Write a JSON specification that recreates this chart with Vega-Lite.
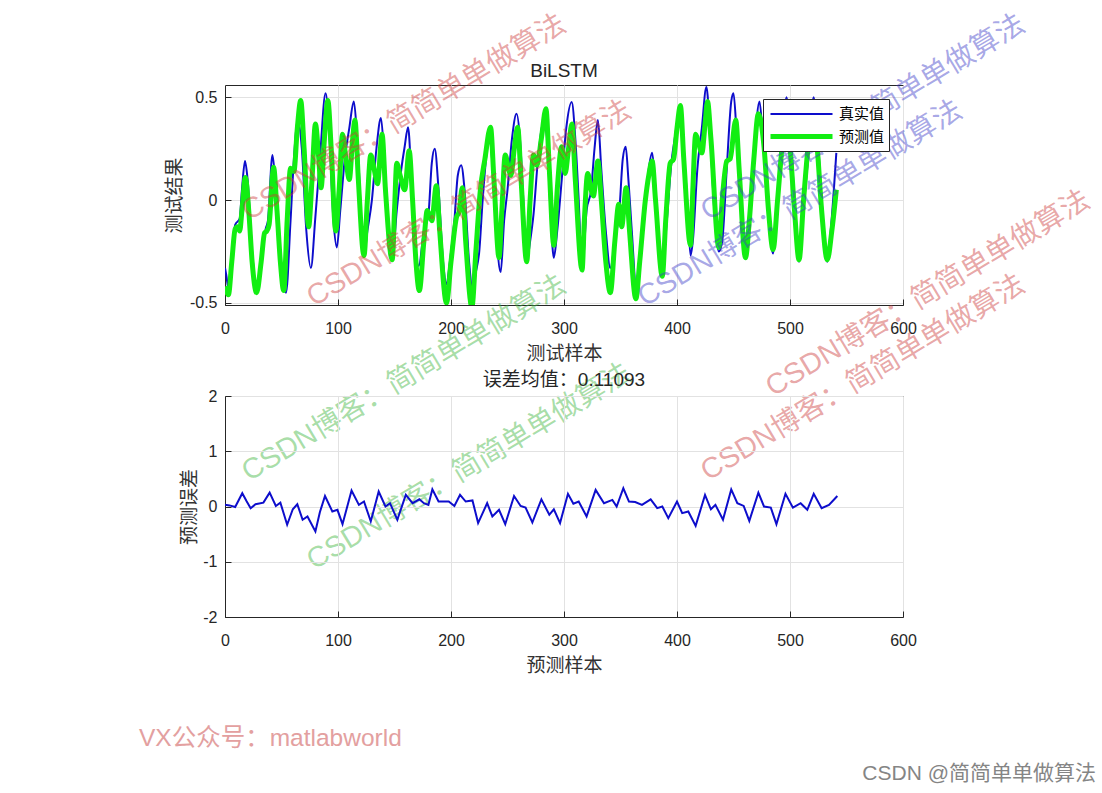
{
  "$schema": "https://vega.github.io/schema/vega-lite/v6.json",
  "background": "white",
  "padding": {"left": 138, "top": 9, "right": 0, "bottom": 0},
  "bounds": "flush",
  "spacing": 91,
  "config": {
    "view": {"stroke": "#262626", "strokeWidth": 1},
    "axis": {
      "domainColor": "#262626", "tickColor": "#262626", "labelColor": "#262626",
      "labelFont": "Liberation Sans", "labelFontSize": 16, "labelFlush": false,
      "titleFont": "Noto Sans CJK SC", "titleFontSize": 19, "titleFontWeight": "normal", "titleColor": "#333333",
      "grid": true, "gridColor": "#e2e2e2", "tickSize": -6
    },
    "axisX": {"labelPadding": 21, "titlePadding": 8},
    "axisY": {"labelPadding": 14, "titlePadding": 5},
    "title": {"font": "Liberation Sans, Noto Sans CJK SC", "fontSize": 19, "fontWeight": "normal", "color": "#262626", "frame": "group"},
    "legend": {
      "orient": "top-right", "offset": 14, "title": null,
      "strokeColor": "#262626", "fillColor": "white", "padding": 4, "cornerRadius": 0,
      "symbolType": "M-3.1,0H3.1", "symbolSize": 400, "symbolOffset": 22, "labelOffset": 25, "rowPadding": 2,
      "labelFont": "Noto Sans CJK SC", "labelFontSize": 15, "labelColor": "#000000"
    }
  },
  "datasets": {
    "top": [
      {"s":0,"v":-0.33,"k":"真实值"},{"s":1,"v":-0.36,"k":"真实值"},{"s":3.5,"v":-0.44,"k":"真实值"},{"s":6,"v":-0.3,"k":"真实值"},{"s":9,"v":-0.12,"k":"真实值"},{"s":13,"v":-0.09,"k":"真实值"},{"s":15,"v":0.05,"k":"真实值"},{"s":17.7,"v":0.19,"k":"真实值"},{"s":20,"v":0.1,"k":"真实值"},{"s":24,"v":-0.25,"k":"真实值"},{"s":28,"v":-0.44,"k":"真实值"},{"s":32,"v":-0.3,"k":"真实值"},{"s":36,"v":-0.14,"k":"真实值"},{"s":38,"v":-0.1,"k":"真实值"},{"s":42,"v":0.22,"k":"真实值"},{"s":45,"v":0.05,"k":"真实值"},{"s":50,"v":-0.35,"k":"真实值"},{"s":54,"v":-0.45,"k":"真实值"},{"s":58,"v":-0.1,"k":"真实值"},{"s":61,"v":0.2,"k":"真实值"},{"s":64.5,"v":0.39,"k":"真实值"},{"s":68,"v":0.25,"k":"真实值"},{"s":72,"v":-0.15,"k":"真实值"},{"s":76,"v":-0.33,"k":"真实值"},{"s":80,"v":-0.08,"k":"真实值"},{"s":84,"v":0.2,"k":"真实值"},{"s":89,"v":0.52,"k":"真实值"},{"s":92,"v":0.35,"k":"真实值"},{"s":96,"v":-0.1,"k":"真实值"},{"s":99,"v":-0.23,"k":"真实值"},{"s":102,"v":-0.05,"k":"真实值"},{"s":106,"v":0.2,"k":"真实值"},{"s":110,"v":0.35,"k":"真实值"},{"s":114,"v":0.48,"k":"真实值"},{"s":117,"v":0.3,"k":"真实值"},{"s":123,"v":-0.27,"k":"真实值"},{"s":126,"v":-0.15,"k":"真实值"},{"s":130,"v":0.0,"k":"真实值"},{"s":134,"v":0.25,"k":"真实值"},{"s":138,"v":0.4,"k":"真实值"},{"s":141,"v":0.2,"k":"真实值"},{"s":145,"v":-0.15,"k":"真实值"},{"s":148,"v":-0.29,"k":"真实值"},{"s":152,"v":-0.05,"k":"真实值"},{"s":156,"v":0.15,"k":"真实值"},{"s":159,"v":0.26,"k":"真实值"},{"s":162,"v":0.355,"k":"真实值"},{"s":165,"v":0.1,"k":"真实值"},{"s":168,"v":-0.2,"k":"真实值"},{"s":171.5,"v":-0.32,"k":"真实值"},{"s":176,"v":-0.15,"k":"真实值"},{"s":180,"v":-0.07,"k":"真实值"},{"s":183,"v":0.18,"k":"真实值"},{"s":185.6,"v":0.25,"k":"真实值"},{"s":189,"v":0.05,"k":"真实值"},{"s":193,"v":-0.3,"k":"真实值"},{"s":196,"v":-0.41,"k":"真实值"},{"s":199,"v":-0.3,"k":"真实值"},{"s":203,"v":-0.1,"k":"真实值"},{"s":206,"v":0.12,"k":"真实值"},{"s":209,"v":0.17,"k":"真实值"},{"s":212,"v":0.05,"k":"真实值"},{"s":216,"v":-0.3,"k":"真实值"},{"s":219,"v":-0.43,"k":"真实值"},{"s":222,"v":-0.35,"k":"真实值"},{"s":225,"v":-0.25,"k":"真实值"},{"s":228,"v":0.0,"k":"真实值"},{"s":232,"v":0.25,"k":"真实值"},{"s":234,"v":0.3,"k":"真实值"},{"s":237,"v":0.15,"k":"真实值"},{"s":240,"v":-0.15,"k":"真实值"},{"s":244,"v":-0.35,"k":"真实值"},{"s":247,"v":-0.1,"k":"真实值"},{"s":250,"v":0.05,"k":"真实值"},{"s":254,"v":0.3,"k":"真实值"},{"s":258,"v":0.42,"k":"真实值"},{"s":261,"v":0.3,"k":"真实值"},{"s":264,"v":0.0,"k":"真实值"},{"s":267,"v":-0.3,"k":"真实值"},{"s":270,"v":-0.2,"k":"真实值"},{"s":273,"v":-0.07,"k":"真实值"},{"s":277,"v":0.2,"k":"真实值"},{"s":282,"v":0.38,"k":"真实值"},{"s":285,"v":0.3,"k":"真实值"},{"s":288,"v":-0.05,"k":"真实值"},{"s":291,"v":-0.28,"k":"真实值"},{"s":294,"v":-0.15,"k":"真实值"},{"s":298,"v":0.1,"k":"真实值"},{"s":302,"v":0.35,"k":"真实值"},{"s":306.8,"v":0.477,"k":"真实值"},{"s":310,"v":0.3,"k":"真实值"},{"s":313,"v":0.0,"k":"真实值"},{"s":316,"v":-0.34,"k":"真实值"},{"s":320,"v":-0.05,"k":"真实值"},{"s":324,"v":0.05,"k":"真实值"},{"s":327,"v":0.25,"k":"真实值"},{"s":330,"v":0.39,"k":"真实值"},{"s":333,"v":0.15,"k":"真实值"},{"s":337,"v":-0.15,"k":"真实值"},{"s":341,"v":-0.33,"k":"真实值"},{"s":345,"v":-0.2,"k":"真实值"},{"s":349,"v":-0.05,"k":"真实值"},{"s":352,"v":0.2,"k":"真实值"},{"s":354.6,"v":0.26,"k":"真实值"},{"s":357,"v":0.1,"k":"真实值"},{"s":360,"v":-0.15,"k":"真实值"},{"s":363.6,"v":-0.4,"k":"真实值"},{"s":367,"v":-0.3,"k":"真实值"},{"s":372,"v":-0.02,"k":"真实值"},{"s":375,"v":0.15,"k":"真实值"},{"s":378,"v":0.23,"k":"真实值"},{"s":381,"v":0.05,"k":"真实值"},{"s":384,"v":-0.2,"k":"真实值"},{"s":387,"v":-0.33,"k":"真实值"},{"s":391,"v":-0.1,"k":"真实值"},{"s":395,"v":0.18,"k":"真实值"},{"s":398,"v":0.3,"k":"真实值"},{"s":402,"v":0.42,"k":"真实值"},{"s":405,"v":0.3,"k":"真实值"},{"s":409,"v":0.0,"k":"真实值"},{"s":412,"v":-0.27,"k":"真实值"},{"s":414,"v":-0.2,"k":"真实值"},{"s":418,"v":0.15,"k":"真实值"},{"s":422,"v":0.35,"k":"真实值"},{"s":426,"v":0.55,"k":"真实值"},{"s":429,"v":0.35,"k":"真实值"},{"s":433,"v":-0.05,"k":"真实值"},{"s":437,"v":-0.25,"k":"真实值"},{"s":440,"v":-0.2,"k":"真实值"},{"s":444,"v":0.15,"k":"真实值"},{"s":448,"v":0.48,"k":"真实值"},{"s":450,"v":0.52,"k":"真实值"},{"s":453,"v":0.3,"k":"真实值"},{"s":457,"v":0.0,"k":"真实值"},{"s":461,"v":-0.28,"k":"真实值"},{"s":464,"v":-0.15,"k":"真实值"},{"s":468,"v":0.2,"k":"真实值"},{"s":473,"v":0.48,"k":"真实值"},{"s":476,"v":0.3,"k":"真实值"},{"s":480,"v":0.0,"k":"真实值"},{"s":485,"v":-0.26,"k":"真实值"},{"s":488,"v":-0.1,"k":"真实值"},{"s":492,"v":0.2,"k":"真实值"},{"s":497,"v":0.5,"k":"真实值"},{"s":500,"v":0.35,"k":"真实值"},{"s":504,"v":0.0,"k":"真实值"},{"s":508,"v":-0.3,"k":"真实值"},{"s":511,"v":-0.1,"k":"真实值"},{"s":516,"v":0.2,"k":"真实值"},{"s":521,"v":0.5,"k":"真实值"},{"s":524,"v":0.35,"k":"真实值"},{"s":528,"v":0.0,"k":"真实值"},{"s":533,"v":-0.3,"k":"真实值"},{"s":536,"v":-0.15,"k":"真实值"},{"s":541,"v":0.23,"k":"真实值"},
      {"s":0,"v":-0.42,"k":"预测值"},{"s":3,"v":-0.46,"k":"预测值"},{"s":6,"v":-0.3,"k":"预测值"},{"s":9,"v":-0.14,"k":"预测值"},{"s":11,"v":-0.13,"k":"预测值"},{"s":13,"v":-0.15,"k":"预测值"},{"s":15,"v":-0.05,"k":"预测值"},{"s":18,"v":0.11,"k":"预测值"},{"s":21,"v":-0.05,"k":"预测值"},{"s":24,"v":-0.3,"k":"预测值"},{"s":28,"v":-0.45,"k":"预测值"},{"s":32,"v":-0.3,"k":"预测值"},{"s":35,"v":-0.16,"k":"预测值"},{"s":37,"v":-0.15,"k":"预测值"},{"s":39,"v":-0.12,"k":"预测值"},{"s":43,"v":0.16,"k":"预测值"},{"s":46,"v":-0.05,"k":"预测值"},{"s":49,"v":-0.3,"k":"预测值"},{"s":52,"v":-0.44,"k":"预测值"},{"s":55,"v":-0.1,"k":"预测值"},{"s":58,"v":0.155,"k":"预测值"},{"s":61,"v":0.14,"k":"预测值"},{"s":64,"v":0.35,"k":"预测值"},{"s":67,"v":0.485,"k":"预测值"},{"s":70,"v":0.25,"k":"预测值"},{"s":74,"v":-0.13,"k":"预测值"},{"s":77,"v":0.1,"k":"预测值"},{"s":80,"v":0.37,"k":"预测值"},{"s":83,"v":0.2,"k":"预测值"},{"s":85,"v":0.06,"k":"预测值"},{"s":88,"v":0.3,"k":"预测值"},{"s":91,"v":0.485,"k":"预测值"},{"s":94,"v":0.25,"k":"预测值"},{"s":98,"v":-0.15,"k":"预测值"},{"s":101,"v":0.05,"k":"预测值"},{"s":104,"v":0.32,"k":"预测值"},{"s":107,"v":0.2,"k":"预测值"},{"s":110,"v":0.1,"k":"预测值"},{"s":113,"v":0.3,"k":"预测值"},{"s":115,"v":0.39,"k":"预测值"},{"s":118,"v":0.1,"k":"预测值"},{"s":123,"v":-0.27,"k":"预测值"},{"s":126,"v":0.0,"k":"预测值"},{"s":129,"v":0.22,"k":"预测值"},{"s":132,"v":0.15,"k":"预测值"},{"s":135,"v":0.08,"k":"预测值"},{"s":139,"v":0.32,"k":"预测值"},{"s":142,"v":0.05,"k":"预测值"},{"s":148,"v":-0.29,"k":"预测值"},{"s":150,"v":-0.05,"k":"预测值"},{"s":152,"v":0.18,"k":"预测值"},{"s":155,"v":0.12,"k":"预测值"},{"s":159,"v":0.05,"k":"预测值"},{"s":163,"v":0.24,"k":"预测值"},{"s":166,"v":0.0,"k":"预测值"},{"s":169,"v":-0.3,"k":"预测值"},{"s":172,"v":-0.44,"k":"预测值"},{"s":176,"v":-0.2,"k":"预测值"},{"s":179,"v":-0.05,"k":"预测值"},{"s":183,"v":-0.1,"k":"预测值"},{"s":187,"v":0.07,"k":"预测值"},{"s":190,"v":-0.15,"k":"预测值"},{"s":196,"v":-0.5,"k":"预测值"},{"s":200,"v":-0.3,"k":"预测值"},{"s":205,"v":-0.08,"k":"预测值"},{"s":207,"v":-0.06,"k":"预测值"},{"s":210,"v":0.06,"k":"预测值"},{"s":213,"v":-0.2,"k":"预测值"},{"s":218.5,"v":-0.52,"k":"预测值"},{"s":222,"v":-0.25,"k":"预测值"},{"s":226,"v":0.05,"k":"预测值"},{"s":230,"v":0.2,"k":"预测值"},{"s":235,"v":0.355,"k":"预测值"},{"s":238,"v":0.1,"k":"预测值"},{"s":242.5,"v":-0.28,"k":"预测值"},{"s":245,"v":-0.05,"k":"预测值"},{"s":248,"v":0.22,"k":"预测值"},{"s":251,"v":0.15,"k":"预测值"},{"s":253,"v":0.12,"k":"预测值"},{"s":256,"v":0.25,"k":"预测值"},{"s":259,"v":0.355,"k":"预测值"},{"s":262,"v":0.1,"k":"预测值"},{"s":267,"v":-0.3,"k":"预测值"},{"s":270,"v":0.0,"k":"预测值"},{"s":273,"v":0.22,"k":"预测值"},{"s":276,"v":0.17,"k":"预测值"},{"s":280,"v":0.3,"k":"预测值"},{"s":284,"v":0.445,"k":"预测值"},{"s":287,"v":0.15,"k":"预测值"},{"s":291,"v":-0.22,"k":"预测值"},{"s":294,"v":0.05,"k":"预测值"},{"s":298,"v":0.26,"k":"预测值"},{"s":301,"v":0.13,"k":"预测值"},{"s":304,"v":0.25,"k":"预测值"},{"s":307,"v":0.37,"k":"预测值"},{"s":310,"v":0.1,"k":"预测值"},{"s":316,"v":-0.34,"k":"预测值"},{"s":318,"v":-0.1,"k":"预测值"},{"s":321,"v":0.13,"k":"预测值"},{"s":324,"v":0.05,"k":"预测值"},{"s":326,"v":0.02,"k":"预测值"},{"s":330,"v":0.19,"k":"预测值"},{"s":333,"v":0.0,"k":"预测值"},{"s":337,"v":-0.3,"k":"预测值"},{"s":341,"v":-0.45,"k":"预测值"},{"s":345,"v":-0.2,"k":"预测值"},{"s":348.5,"v":-0.02,"k":"预测值"},{"s":351,"v":-0.13,"k":"预测值"},{"s":355,"v":0.06,"k":"预测值"},{"s":358,"v":-0.15,"k":"预测值"},{"s":363.6,"v":-0.48,"k":"预测值"},{"s":367,"v":-0.3,"k":"预测值"},{"s":372,"v":0.0,"k":"预测值"},{"s":375,"v":0.12,"k":"预测值"},{"s":378,"v":0.19,"k":"预测值"},{"s":381,"v":0.0,"k":"预测值"},{"s":387,"v":-0.37,"k":"预测值"},{"s":390,"v":-0.1,"k":"预测值"},{"s":394,"v":0.18,"k":"预测值"},{"s":397,"v":0.2,"k":"预测值"},{"s":400,"v":0.35,"k":"预测值"},{"s":403,"v":0.46,"k":"预测值"},{"s":406,"v":0.2,"k":"预测值"},{"s":412,"v":-0.22,"k":"预测值"},{"s":414,"v":0.05,"k":"预测值"},{"s":416.5,"v":0.32,"k":"预测值"},{"s":419,"v":0.28,"k":"预测值"},{"s":422,"v":0.23,"k":"预测值"},{"s":425,"v":0.38,"k":"预测值"},{"s":427,"v":0.48,"k":"预测值"},{"s":430,"v":0.3,"k":"预测值"},{"s":437,"v":-0.23,"k":"预测值"},{"s":440,"v":0.0,"k":"预测值"},{"s":444,"v":0.19,"k":"预测值"},{"s":447,"v":0.2,"k":"预测值"},{"s":452,"v":0.39,"k":"预测值"},{"s":455,"v":0.15,"k":"预测值"},{"s":460.6,"v":-0.28,"k":"预测值"},{"s":464,"v":-0.1,"k":"预测值"},{"s":468,"v":0.2,"k":"预测值"},{"s":472,"v":0.42,"k":"预测值"},{"s":477,"v":0.26,"k":"预测值"},{"s":481,"v":-0.05,"k":"预测值"},{"s":485,"v":-0.24,"k":"预测值"},{"s":489,"v":0.0,"k":"预测值"},{"s":493,"v":0.26,"k":"预测值"},{"s":497,"v":0.42,"k":"预测值"},{"s":500,"v":0.26,"k":"预测值"},{"s":504,"v":-0.05,"k":"预测值"},{"s":508,"v":-0.29,"k":"预测值"},{"s":512,"v":0.0,"k":"预测值"},{"s":516,"v":0.26,"k":"预测值"},{"s":520,"v":0.42,"k":"预测值"},{"s":524,"v":0.26,"k":"预测值"},{"s":528,"v":-0.05,"k":"预测值"},{"s":533,"v":-0.29,"k":"预测值"},{"s":537,"v":-0.15,"k":"预测值"},{"s":541,"v":0.05,"k":"预测值"}
    ],
    "err": [
      {"s":0,"v":0.03},{"s":4,"v":0.02},{"s":9,"v":-0.01},{"s":15.3,"v":0.24},{"s":19,"v":0.1},{"s":22.7,"v":-0.03},{"s":27,"v":0.04},{"s":34,"v":0.07},{"s":39.5,"v":0.25},{"s":45,"v":0.01},{"s":49,"v":0.07},{"s":55,"v":-0.33},{"s":60,"v":-0.05},{"s":64,"v":0.04},{"s":68.7,"v":-0.24},{"s":73,"v":-0.18},{"s":80,"v":-0.45},{"s":84,"v":-0.1},{"s":88.5,"v":0.19},{"s":95,"v":-0.09},{"s":99.5,"v":-0.06},{"s":104,"v":-0.32},{"s":112,"v":0.29},{"s":118.5,"v":0.03},{"s":123,"v":0.09},{"s":129,"v":-0.27},{"s":136,"v":0.27},{"s":142,"v":0},{"s":146,"v":0.06},{"s":152.5,"v":-0.24},{"s":160,"v":0.21},{"s":166,"v":0.06},{"s":172,"v":0.13},{"s":176,"v":0.06},{"s":180,"v":0.03},{"s":183.5,"v":0.31},{"s":189,"v":0.09},{"s":198,"v":0.09},{"s":203,"v":0.01},{"s":208,"v":0.21},{"s":213,"v":0.09},{"s":219,"v":0.11},{"s":224,"v":-0.3},{"s":232,"v":0.06},{"s":236.6,"v":-0.18},{"s":242.5,"v":-0.06},{"s":248,"v":-0.32},{"s":255.8,"v":0.19},{"s":261.6,"v":0.01},{"s":266,"v":-0.02},{"s":272,"v":-0.29},{"s":280,"v":0.13},{"s":287,"v":-0.15},{"s":291,"v":-0.05},{"s":296.5,"v":-0.3},{"s":303.5,"v":0.23},{"s":308.3,"v":0.05},{"s":313,"v":0.09},{"s":320,"v":-0.18},{"s":328,"v":0.3},{"s":335.4,"v":0.06},{"s":342.8,"v":0.12},{"s":346.6,"v":0},{"s":352.5,"v":0.33},{"s":357.5,"v":0.09},{"s":363,"v":0.08},{"s":369,"v":0.03},{"s":376.7,"v":0.13},{"s":382.5,"v":-0.03},{"s":387,"v":0},{"s":392.3,"v":-0.21},{"s":400,"v":0.09},{"s":404.6,"v":-0.12},{"s":410,"v":-0.09},{"s":416.5,"v":-0.35},{"s":424.8,"v":0.21},{"s":430,"v":-0.05},{"s":434,"v":0.03},{"s":440.7,"v":-0.24},{"s":448,"v":0.31},{"s":453.4,"v":0.06},{"s":459,"v":0.01},{"s":464,"v":-0.26},{"s":472,"v":0.25},{"s":477,"v":0},{"s":483,"v":-0.02},{"s":488,"v":-0.32},{"s":496,"v":0.23},{"s":502.6,"v":-0.02},{"s":509.4,"v":0.06},{"s":515.3,"v":-0.06},{"s":521,"v":0.23},{"s":528,"v":-0.03},{"s":534.5,"v":0.03},{"s":541.9,"v":0.19}
    ],
    "wm": [
      {"s":21.2,"v":-0.102,"g":"红","t":"CSDN博客：简简单单做算法"},
      {"s":427.4,"v":-0.102,"g":"蓝","t":"CSDN博客：简简单单做算法"},
      {"s":78.8,"v":-0.52,"g":"红","t":"CSDN博客：简简单单做算法"},
      {"s":371.7,"v":-0.52,"g":"蓝","t":"CSDN博客：简简单单做算法"},
      {"s":21.2,"v":-1.37,"g":"绿","t":"CSDN博客：简简单单做算法"},
      {"s":78.8,"v":-1.8,"g":"绿","t":"CSDN博客：简简单单做算法"},
      {"s":427.4,"v":-1.367,"g":"红","t":"CSDN博客：简简单单做算法"},
      {"s":484.9,"v":-0.958,"g":"红","t":"CSDN博客：简简单单做算法"}
    ]
  },
  "vconcat": [
    {
      "width": 678,
      "height": 220,
      "title": {"text": "BiLSTM", "offset": -71},
      "layer": [
        {
          "data": {"name": "top"},
          "mark": {"type": "line", "interpolate": "monotone", "clip": true},
          "encoding": {
            "x": {
              "field": "s", "type": "quantitative",
              "scale": {"domain": [0, 600], "nice": false},
              "axis": {"values": [0, 100, 200, 300, 400, 500, 600], "labelExpr": "'' + datum.value", "title": "测试样本"}
            },
            "y": {
              "field": "v", "type": "quantitative",
              "scale": {"domain": [-0.51, 0.56], "nice": false, "zero": false},
              "axis": {"values": [-0.5, 0, 0.5], "labelExpr": "'' + datum.value", "title": "测试结果"}
            },
            "color": {
              "field": "k", "type": "nominal",
              "scale": {"domain": ["真实值", "预测值"], "range": ["#0d0dcc", "#12ee12"]}
            },
            "strokeWidth": {
              "field": "k", "type": "nominal",
              "scale": {"domain": ["真实值", "预测值"], "range": [2, 5]}
            }
          }
        },
        {
          "data": {"name": "wm"},
          "mark": {"type": "text", "angle": -31, "align": "left", "baseline": "alphabetic", "fontSize": 29, "font": "Liberation Sans, Noto Sans CJK SC", "fillOpacity": 0.45, "clip": false},
          "encoding": {
            "x": {"field": "s", "type": "quantitative", "scale": {"domain": [0, 600], "nice": false}},
            "y": {"field": "v", "type": "quantitative", "scale": {"domain": [-0.51, 0.56], "nice": false, "zero": false}},
            "text": {"field": "t"},
            "fill": {
              "field": "g", "type": "nominal", "legend": null,
              "scale": {"domain": ["红", "绿", "蓝"], "range": ["#cc3b3b", "#3cb43c", "#3c3cc8"]}
            }
          }
        }
      ]
    },
    {
      "width": 678,
      "height": 221,
      "title": {"text": "误差均值：0.11093", "offset": -2},
      "layer": [
        {
          "data": {"name": "err"},
          "mark": {"type": "line", "color": "#0d0dcc", "strokeWidth": 2, "clip": true},
          "encoding": {
            "x": {
              "field": "s", "type": "quantitative",
              "scale": {"domain": [0, 600], "nice": false},
              "axis": {"values": [0, 100, 200, 300, 400, 500, 600], "labelExpr": "'' + datum.value", "title": "预测样本"}
            },
            "y": {
              "field": "v", "type": "quantitative",
              "scale": {"domain": [-2, 2], "nice": false},
              "axis": {"values": [-2, -1, 0, 1, 2], "labelExpr": "'' + datum.value", "title": "预测误差", "titlePadding": 3}
            }
          }
        },
        {
          "data": {"values": [{"s": -76.1, "v": -4.335, "t": "VX公众号：matlabworld"}]},
          "mark": {"type": "text", "align": "left", "baseline": "alphabetic", "fontSize": 24.5, "font": "Liberation Sans, Noto Sans CJK SC", "color": "#e3a0a0", "clip": false},
          "encoding": {
            "x": {"field": "s", "type": "quantitative", "scale": {"domain": [0, 600], "nice": false}},
            "y": {"field": "v", "type": "quantitative", "scale": {"domain": [-2, 2], "nice": false}},
            "text": {"field": "t"}
          }
        },
        {
          "data": {"values": [{"s": 770.8, "v": -4.95, "t": "CSDN @简简单单做算法"}]},
          "mark": {"type": "text", "align": "right", "baseline": "alphabetic", "fontSize": 21, "font": "Liberation Sans, Noto Sans CJK SC", "color": "#858585", "clip": false},
          "encoding": {
            "x": {"field": "s", "type": "quantitative", "scale": {"domain": [0, 600], "nice": false}},
            "y": {"field": "v", "type": "quantitative", "scale": {"domain": [-2, 2], "nice": false}},
            "text": {"field": "t"}
          }
        }
      ]
    }
  ],
  "resolve": {
    "scale": {"x": "independent", "y": "independent", "color": "independent", "strokeWidth": "independent", "fill": "independent"},
    "legend": {"color": "independent", "strokeWidth": "independent"}
  }
}
